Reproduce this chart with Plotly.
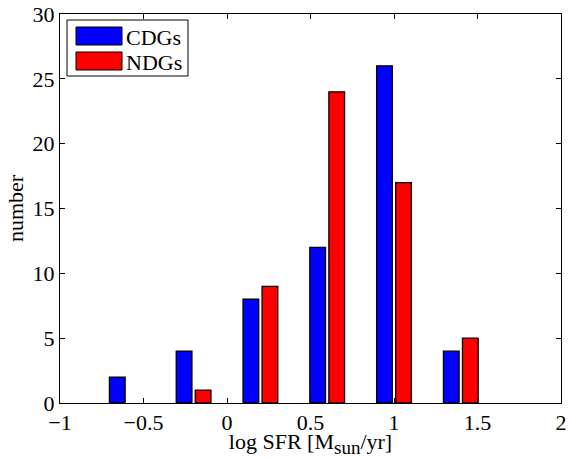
import plotly.graph_objects as go

bin_centers = [-0.6, -0.2, 0.2, 0.6, 1.0, 1.4]
cdg_counts = [2, 4, 8, 12, 26, 4]
ndg_counts = [0, 1, 9, 24, 17, 5]
series_names = ["CDGs", "NDGs"]
series_colors = ["#0000ff", "#ff0000"]
x_ticks = [-1, -0.5, 0, 0.5, 1, 1.5, 2]
x_ticklabels = ["\u22121", "\u22120.5", "0", "0.5", "1", "1.5", "2"]
y_ticks = [0, 5, 10, 15, 20, 25, 30]

offset = 0.057
bar_w = 0.094
FONT = "Liberation Serif"
FS = 22

W, H = 568, 458
ML, MR, MT, MB = 60, 7, 14, 55
PW, PH = W - ML - MR, H - MT - MB

fig = go.Figure()
for name, vals, col, sgn in [(series_names[0], cdg_counts, series_colors[0], -1),
                             (series_names[1], ndg_counts, series_colors[1], 1)]:
    fig.add_trace(go.Bar(
        x=[c + sgn * offset for c in bin_centers],
        y=[v if v > 0 else None for v in vals], width=bar_w,
        name=name, marker=dict(color=col, line=dict(color="black", width=1.3)),
        showlegend=False))

# manual MATLAB-style legend (pixel -> paper coords of plot area)
def px(x): return (x - ML) / PW
def py(y): return (MT + PH - y) / PH
L, T, R, B = 67, 20, 188, 76
shapes = [dict(type="rect", xref="paper", yref="paper", x0=px(L), x1=px(R), y0=py(B), y1=py(T),
               line=dict(color="black", width=1), fillcolor="white", layer="above")]
annotations = []
for i, (name, col) in enumerate(zip(series_names, series_colors)):
    yc = 36 + i * 25
    shapes.append(dict(type="rect", xref="paper", yref="paper",
                       x0=px(76), x1=px(122), y0=py(yc + 9), y1=py(yc - 9),
                       line=dict(color="black", width=1), fillcolor=col, layer="above"))
    annotations.append(dict(text=name, xref="paper", yref="paper", x=px(124), y=py(yc + 1),
                            xanchor="left", yanchor="middle", showarrow=False,
                            font=dict(family=FONT, size=FS, color="black")))

axis_common = dict(showline=True, linecolor="black", linewidth=1, mirror="ticks",
                   ticks="inside", ticklen=5, tickcolor="black", showgrid=False,
                   zeroline=False, automargin=False,
                   tickfont=dict(family=FONT, size=FS, color="black"))

fig.update_layout(
    width=W, height=H, margin=dict(l=ML, r=MR, t=MT, b=MB),
    paper_bgcolor="white", plot_bgcolor="white", barmode="overlay",
    shapes=shapes, annotations=annotations,
    xaxis=dict(range=[-1, 2], tickvals=x_ticks, ticktext=x_ticklabels, ticklabelstandoff=0,
               title=dict(text='log SFR [M<sub><span style="font-size:19px">sun</span></sub>/yr]',
                          standoff=6,
                          font=dict(family=FONT, size=FS, color="black")), **axis_common),
    yaxis=dict(range=[0, 30], tickvals=y_ticks, ticklabelstandoff=0,
               title=dict(text="number", standoff=2,
                          font=dict(family=FONT, size=FS, color="black")), **axis_common),
)
fig.write_html("out.html")
